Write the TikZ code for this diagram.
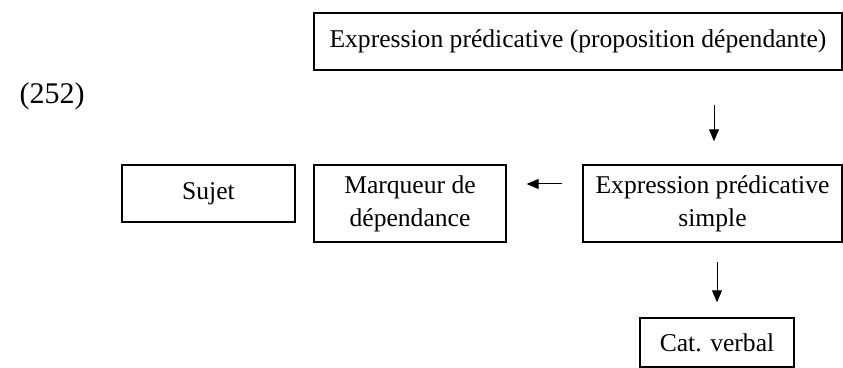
\documentclass[tikz,border=0pt]{standalone}
\usepackage{fontspec}
\setmainfont{Liberation Serif}
\usepackage{tikz}
\usetikzlibrary{positioning,calc}
\usetikzlibrary{arrows.meta}
\tikzset{
  box/.style={draw=black,line width=0.7pt,inner sep=0pt,align=center,font=\fontsize{12.8}{16.5}\selectfont},
  arr/.style={draw=black,line width=0.5pt,-{Triangle[length=6pt,width=5pt]}},
}
\tikzset{num/.style={inner sep=0pt,font=\fontsize{15}{18}\selectfont}}

\begin{document}
\begin{tikzpicture}[x=0.5pt,y=-0.5pt]
\useasboundingbox (0,0) rectangle (843,368);
\node[num](ex) at (52,96){(252)};
\node[box,minimum width=264pt,minimum height=28.5pt](top) at (578,41.5){Expression prédicative (proposition dépendante)};
\node[box,minimum width=86.5pt,minimum height=28.5pt](suj) at (208.5,193.5){Sujet};
\node[box,minimum width=96pt,minimum height=38.5pt](marq) at (410,203.5){Marqueur de\\dépendance};
\node[box,minimum width=129.5pt,minimum height=38.5pt](eps) at (712.5,203.5){Expression prédicative\\simple};
\node[box,minimum width=77pt,minimum height=24.5pt](cat) at (717,342.5){Cat. verbal};
\draw[arr,shorten <=17pt,shorten >=11.5pt] ($(eps.north |- top.south)+(1.5,0)$) -- ($(eps.north)+(1.5,0)$);
\draw[arr,shorten <=10pt,shorten >=10pt] ($(eps.west)+(0,-19.5)$) -- ($(marq.east)+(0,-19.5)$);
\draw[arr,shorten <=9.5pt,shorten >=7.5pt] (cat.north |- eps.south) -- (cat.north);
\end{tikzpicture}
\end{document}
